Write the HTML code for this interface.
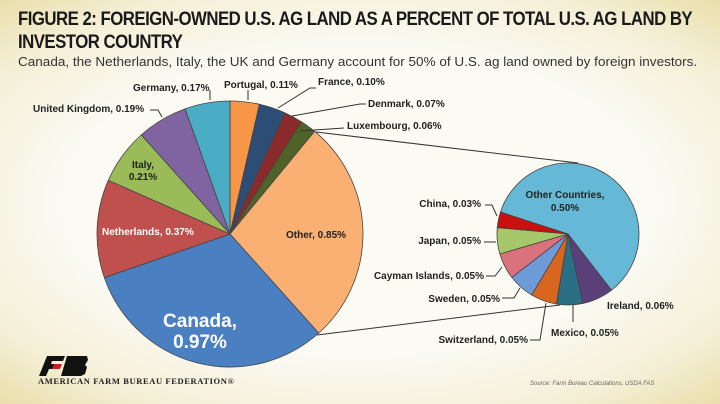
<!DOCTYPE html>
<html><head><meta charset="utf-8"><style>
html,body{margin:0;padding:0}
body{width:720px;height:404px;overflow:hidden;position:relative;font-family:"Liberation Sans",sans-serif;
background:radial-gradient(ellipse 75% 70% at 50% 50%,#fbfaf3 55%,#f4efd6 80%,#e8dca4 100%);}
.t{position:absolute;left:18px;top:8px;font-weight:bold;font-size:19px;line-height:23px;color:#1a1a1a;letter-spacing:-0.6px;transform:scaleX(0.885);transform-origin:left top;white-space:nowrap}
.s{position:absolute;left:18px;top:54px;font-size:13px;color:#333;white-space:nowrap;transform:scaleX(1.04);transform-origin:left top}
svg{position:absolute;left:0;top:0}
svg text{font-family:"Liberation Sans",sans-serif;font-weight:bold;font-size:10px;fill:#222}
</style></head><body>
<div class="t">FIGURE 2: FOREIGN-OWNED U.S. AG LAND AS A PERCENT OF TOTAL U.S. AG LAND BY<br>INVESTOR COUNTRY</div>
<div class="s">Canada, the Netherlands, Italy, the UK and Germany account for 50% of U.S. ag land owned by foreign investors.</div>
<svg width="720" height="404" viewBox="0 0 720 404">
<g id="main" stroke="#444" stroke-width="0.8"></g>
<g id="small" stroke="#444" stroke-width="0.8"></g>
<g stroke="#333" stroke-width="1" fill="none">
<line x1="316" y1="132" x2="578" y2="163"/>
<line x1="317" y1="335" x2="560" y2="305"/>
<polyline points="210,100 210,90"/>
<polyline points="248,100 248,90"/>
<polyline points="278,108 310,88 316,88"/>
<polyline points="292,116 360,104 366,104"/>
<polyline points="300,131 344,128"/>
<polyline points="162,117 158,110 150,110"/>
<polyline points="497,216 492,205 485,205"/>
<polyline points="496,242 484,242"/>
<polyline points="502,267 495,276 486,276"/>
<polyline points="520,288 514,298 502,298"/>
<polyline points="546,303 540,340 530,340"/>
<polyline points="573,305 573,322"/>
</g>
<text x="133" y="91">Germany, 0.17%</text>
<text x="224" y="88">Portugal, 0.11%</text>
<text x="318" y="85">France, 0.10%</text>
<text x="368" y="107">Denmark, 0.07%</text>
<text x="347" y="129">Luxembourg, 0.06%</text>
<text x="33" y="112">United Kingdom, 0.19%</text>
<text x="143" y="168" text-anchor="middle">Italy,</text>
<text x="143" y="180" text-anchor="middle">0.21%</text>
<text x="102" y="235" style="fill:#fff">Netherlands, 0.37%</text>
<text x="286" y="238">Other, 0.85%</text>
<text x="200" y="327" text-anchor="middle" style="fill:#fff;font-size:19px">Canada,</text>
<text x="200" y="348" text-anchor="middle" style="fill:#fff;font-size:19px">0.97%</text>
<text x="565" y="198" text-anchor="middle">Other Countries,</text>
<text x="565" y="211" text-anchor="middle">0.50%</text>
<text x="481" y="207" text-anchor="end">China, 0.03%</text>
<text x="481" y="244" text-anchor="end">Japan, 0.05%</text>
<text x="484" y="279" text-anchor="end">Cayman Islands, 0.05%</text>
<text x="500" y="302" text-anchor="end">Sweden, 0.05%</text>
<text x="528" y="343" text-anchor="end">Switzerland, 0.05%</text>
<text x="551" y="336">Mexico, 0.05%</text>
<text x="607" y="309">Ireland, 0.06%</text>
<text x="530" y="385" style="font-size:6px;font-weight:normal;font-style:italic;fill:#666">Source: Farm Bureau Calculations, USDA FAS</text>
<g transform="translate(41,356)">
<polygon points="6,0 24,0 22,5 11,5 10,8 20,8 18,13 8,13 5,20 -2,20" fill="#111"/>
<polygon points="13,8 21,8 19,13 11,13" fill="#c8202b"/>
<polygon points="26,0 46,0 47,4 44,9 46,11 44,18 40,20 20,20" fill="#111"/>
</g>
<text x="38" y="384" style="font-family:'Liberation Serif',serif;font-size:8.5px;fill:#222;letter-spacing:0.6px">AMERICAN FARM BUREAU FEDERATION®</text>
</svg>
<script>
function pie(gid,cx,cy,r,start,data){
 var g=document.getElementById(gid),tot=0;data.forEach(function(d){tot+=d[0]});
 var a=start;
 data.forEach(function(d){
  var sw=d[0]/tot*360,b=a+sw;
  function p(x){var t=(x-90)*Math.PI/180;return [cx+r*Math.cos(t),cy+r*Math.sin(t)];}
  var p1=p(a),p2=p(b);
  var path=document.createElementNS("http://www.w3.org/2000/svg","path");
  path.setAttribute("d","M"+cx+","+cy+"L"+p1[0]+","+p1[1]+"A"+r+","+r+" 0 "+(sw>180?1:0)+" 1 "+p2[0]+","+p2[1]+"Z");
  path.setAttribute("fill",d[1]);g.appendChild(path);a=b;});
}
pie("main",230,234,133,0,[[0.11,"#f79646"],[0.10,"#2c4d75"],[0.07,"#8b2a2a"],[0.06,"#4f6228"],[0.85,"#fab073"],[0.97,"#4a7fc1"],[0.37,"#c0504d"],[0.21,"#9bbb59"],[0.19,"#8064a2"],[0.17,"#4bacc6"]]);
pie("small",568,234,71,288,[[0.50,"#66b9d6"],[0.06,"#5a3f78"],[0.05,"#2a6f85"],[0.05,"#d8661e"],[0.05,"#6f9ad8"],[0.05,"#d9727a"],[0.05,"#a6c76a"],[0.03,"#c81010"]]);
</script>
</body></html>
